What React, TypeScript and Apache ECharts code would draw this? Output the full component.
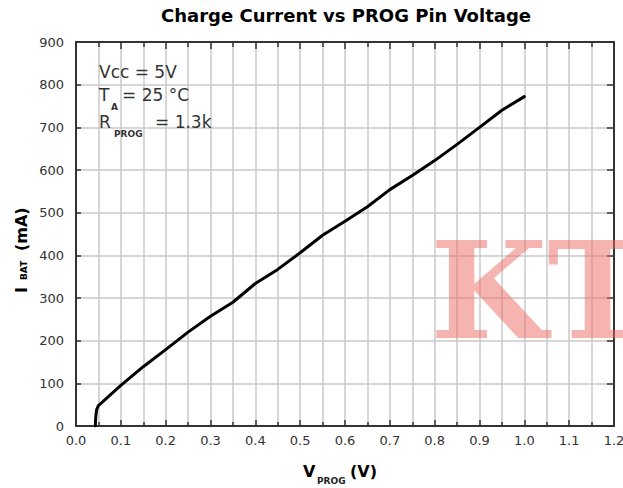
import React, { useEffect, useRef } from "react";
import * as echarts from "echarts";

// ---- data ----
const vProg = [0.043, 0.044, 0.046, 0.05, 0.1, 0.15, 0.2, 0.25, 0.3, 0.35, 0.4, 0.45, 0.5, 0.55, 0.6, 0.65, 0.7, 0.75, 0.8, 0.85, 0.9, 0.95, 1.0];
const iBat = [0, 20, 38, 48, 95, 139, 179, 220, 257, 290, 334, 367, 406, 447, 480, 514, 554, 587, 622, 660, 700, 740, 772];

const xMin = 0;
const xMax = 1.2;
const xStep = 0.1;
const yMin = 0;
const yMax = 900;
const yStep = 100;

const titleText = "Charge Current vs PROG Pin Voltage";
const noteLine1 = "Vcc = 5V";
const noteLine2 = ["T", "A", "= 25 °C"];
const noteLine3 = ["R", "PROG", "= 1.3k"];
const xName = ["V", "PROG", "(V)"];
const yName = ["I", "BAT", "(mA)"];
const watermark = "KT";

const SANS = "'DejaVu Sans', Verdana, sans-serif";
const SERIF = "'DejaVu Serif', serif";
const GRID_COLOR = "#c8c8c8";
const FRAME_COLOR = "#333";

function txt(text: string, x: number, y: number, size: number, opts: any = {}) {
  return {
    type: "text",
    x,
    y,
    silent: true,
    z: opts.z ?? 10,
    style: {
      text,
      fontSize: size,
      fontFamily: opts.family ?? SANS,
      fontWeight: opts.weight ?? "normal",
      fill: opts.fill ?? "#000",
      textAlign: opts.align ?? "left",
      align: opts.align ?? "left",
      textVerticalAlign: "middle",
      verticalAlign: "middle",
    },
  };
}

export default function App() {
  const ref = useRef<HTMLDivElement>(null);

  useEffect(() => {
    if (!ref.current) return;
    const chart = echarts.init(ref.current, undefined, { renderer: "svg" });

    const data = vProg.map((v, i) => [v, iBat[i]]);

    const option: any = {
      animation: false,
      backgroundColor: "#fff",
      grid: { left: 76, right: 9, top: 42, bottom: 62, outerBoundsMode: "none" },
      xAxis: [
        {
          type: "value",
          position: "bottom",
          min: xMin,
          max: xMax,
          interval: xStep,
          axisLine: { show: true, onZero: false, lineStyle: { color: FRAME_COLOR, width: 2 } },
          axisTick: { show: true, inside: true, length: 6, lineStyle: { color: FRAME_COLOR, width: 1.5 } },
          minorTick: { show: true, splitNumber: 2, length: 4, lineStyle: { color: FRAME_COLOR, width: 1.5 } },
          axisLabel: {
            formatter: (v: number) => v.toFixed(1),
            fontSize: 13,
            fontFamily: SANS,
            color: "#333",
            margin: 8,
          },
          splitLine: { show: true, lineStyle: { color: GRID_COLOR, width: 1.5 } },
          minorSplitLine: { show: true, lineStyle: { color: GRID_COLOR, width: 1.5 } },
        },
        {
          type: "value",
          position: "top",
          min: xMin,
          max: xMax,
          interval: xStep,
          axisLine: { show: true, onZero: false, lineStyle: { color: FRAME_COLOR, width: 2 } },
          axisTick: { show: true, inside: true, length: 7, lineStyle: { color: FRAME_COLOR, width: 1.5 } },
          minorTick: { show: true, splitNumber: 2, length: 5, lineStyle: { color: FRAME_COLOR, width: 1.5 } },
          axisLabel: { show: false },
          splitLine: { show: false },
        },
      ],
      yAxis: [
        {
          type: "value",
          position: "left",
          min: yMin,
          max: yMax,
          interval: yStep,
          axisLine: { show: true, onZero: false, lineStyle: { color: FRAME_COLOR, width: 2 } },
          axisTick: { show: true, inside: true, length: 5, lineStyle: { color: FRAME_COLOR, width: 1.5 } },
          axisLabel: { fontSize: 13, fontFamily: SANS, color: "#333", margin: 12 },
          splitLine: { show: true, lineStyle: { color: GRID_COLOR, width: 1.5 } },
        },
        {
          type: "value",
          position: "right",
          min: yMin,
          max: yMax,
          interval: yStep,
          axisLine: { show: true, onZero: false, lineStyle: { color: FRAME_COLOR, width: 2 } },
          axisTick: { show: true, inside: true, length: 7, lineStyle: { color: FRAME_COLOR, width: 1.5 } },
          axisLabel: { show: false },
          splitLine: { show: false },
        },
      ],
      series: [
        {
          type: "line",
          xAxisIndex: 0,
          yAxisIndex: 0,
          data,
          showSymbol: false,
          symbol: "none",
          lineStyle: { color: "#000", width: 3, join: "round", cap: "round" },
          z: 5,
        },
      ],
      graphic: [
        // title
        txt(titleText, 346, 15, 18, { weight: "bold", align: "center" }),
        // annotations
        txt(noteLine1, 99, 71.5, 17, { fill: "#333" }),
        txt(noteLine2[0], 99, 95, 17, { fill: "#333" }),
        txt(noteLine2[1], 111, 107, 9, { fill: "#333", weight: "bold" }),
        txt(noteLine2[2], 122, 95, 17, { fill: "#333" }),
        txt(noteLine3[0], 99, 122, 17, { fill: "#333" }),
        txt(noteLine3[1], 114, 133.5, 9, { fill: "#333", weight: "bold" }),
        txt(noteLine3[2], 155, 122, 17, { fill: "#333" }),
        // x axis name
        txt(xName[0], 303, 471, 16, { weight: "bold" }),
        txt(xName[1], 317, 481, 9, { weight: "bold", fill: "#222" }),
        txt(xName[2], 350, 471, 16, { weight: "bold" }),
        // y axis name (rotated)
        {
          type: "group",
          x: 27,
          y: 293,
          rotation: Math.PI / 2,
          silent: true,
          children: [
            txt(yName[0], 0, -6, 16, { weight: "bold" }),
            txt(yName[1], 13, -3.5, 9, { weight: "bold" }),
            txt(yName[2], 42, -6, 16, { weight: "bold" }),
          ],
        },
        // watermark
        txt(watermark, 430, 290, 135, {
          weight: "bold",
          family: SERIF,
          fill: "rgba(235,105,95,0.5)",
          z: 20,
        }),
      ],
    };

    chart.setOption(option);
    return () => chart.dispose();
  }, []);

  return (
    <div
      ref={ref}
      style={{ position: "absolute", left: 0, top: 0, width: 623, height: 488, background: "#fff" }}
    />
  );
}
